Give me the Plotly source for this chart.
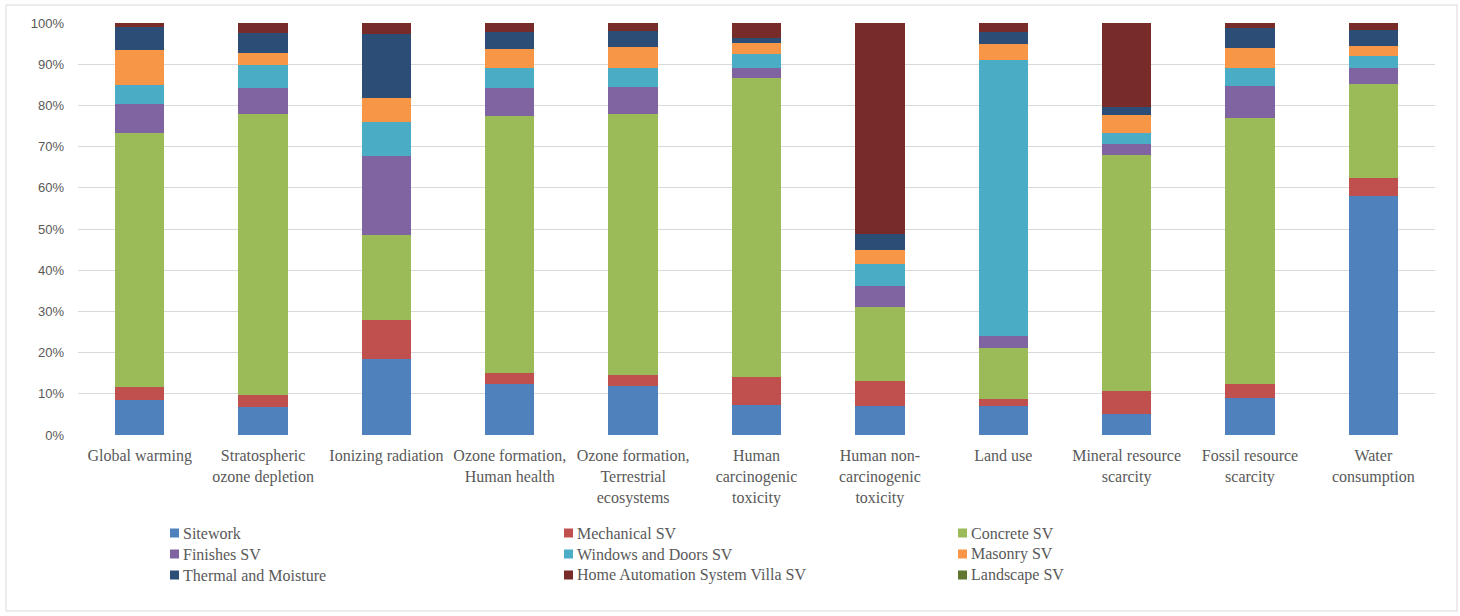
import plotly.graph_objects as go

# Impact categories (x axis) and their wrapped labels
categories = [
    "Global warming",
    "Stratospheric<br>ozone depletion",
    "Ionizing radiation",
    "Ozone formation,<br>Human health",
    "Ozone formation,<br>Terrestrial<br>ecosystems",
    "Human<br>carcinogenic<br>toxicity",
    "Human non-<br>carcinogenic<br>toxicity",
    "Land use",
    "Mineral resource<br>scarcity",
    "Fossil resource<br>scarcity",
    "Water<br>consumption",
]

# Share of each building component per impact category (%)
sitework        = [8.5, 6.7, 18.5, 12.4, 12.0, 7.3, 7.1, 7.1, 5.1, 8.9, 57.9]
mechanical      = [3.2, 3.0, 9.3, 2.6, 2.6, 6.9, 6.1, 1.6, 5.5, 3.5, 4.4]
concrete        = [61.5, 68.1, 20.8, 62.4, 63.2, 72.4, 17.8, 12.3, 57.3, 64.5, 22.9]
finishes        = [7.1, 6.5, 19.0, 6.8, 6.7, 2.6, 5.2, 3.0, 2.7, 7.7, 3.9]
windows_doors   = [4.6, 5.6, 8.4, 4.9, 4.7, 3.3, 5.3, 66.9, 2.8, 4.6, 3.0]
masonry         = [8.5, 2.8, 5.8, 4.7, 4.9, 2.6, 3.3, 4.0, 4.2, 4.7, 2.2]
thermal         = [5.5, 4.9, 15.5, 4.1, 4.0, 1.3, 4.0, 2.9, 1.9, 5.0, 3.9]
home_automation = [1.0, 2.4, 2.7, 2.1, 1.9, 3.6, 51.2, 2.2, 20.5, 1.1, 1.8]
landscape       = [0.0, 0.0, 0.0, 0.0, 0.0, 0.0, 0.0, 0.0, 0.0, 0.0, 0.0]

series_names = [
    "Sitework", "Mechanical SV", "Concrete SV",
    "Finishes SV", "Windows and Doors SV", "Masonry SV",
    "Thermal and Moisture", "Home Automation System Villa SV", "Landscape SV",
]
series_values = [
    sitework, mechanical, concrete,
    finishes, windows_doors, masonry,
    thermal, home_automation, landscape,
]
series_colors = [
    "#4F81BD", "#C0504D", "#9BBB59",
    "#8064A2", "#4BACC6", "#F79646",
    "#2C4D75", "#772C2A", "#5F7530",
]

y_ticks = [0, 10, 20, 30, 40, 50, 60, 70, 80, 90, 100]
y_tick_labels = [f"{v}%" for v in y_ticks]

# Figure geometry (pixels)
W, H = 1460, 616
ML, MR, MT, MB = 78, 25, 23, 181
PW, PH = W - ML - MR, H - MT - MB


def px_x(px):
    return (px - ML) / PW


def px_y(py):
    return (H - MB - py) / PH


serif = "Liberation Serif, Times New Roman, serif"
grey_text = "#595959"

fig = go.Figure()
for name, values, color in zip(series_names, series_values, series_colors):
    fig.add_trace(go.Bar(
        name=name,
        x=categories,
        y=values,
        marker=dict(color=color, line=dict(width=0)),
        width=0.4,
        showlegend=False,
    ))

# Legend: three columns of small swatches with labels
shapes = [dict(
    type="rect", xref="paper", yref="paper",
    x0=px_x(6), x1=px_x(1457), y0=px_y(611), y1=px_y(5),
    line=dict(color="#D9D9D9", width=1),
    fillcolor="rgba(0,0,0,0)",
    layer="below",
)]
annotations = []
col_x, row_y = 170, 533
col_step, row_step = 394, 21
for i, (name, color) in enumerate(zip(series_names, series_colors)):
    cx = col_x + (i % 3) * col_step
    cy = row_y + (i // 3) * row_step
    shapes.append(dict(
        type="rect", xref="paper", yref="paper",
        x0=px_x(cx), x1=px_x(cx + 9), y0=px_y(cy + 4.5), y1=px_y(cy - 4.5),
        fillcolor=color, line=dict(width=0),
    ))
    annotations.append(dict(
        xref="paper", yref="paper", x=px_x(cx + 11), y=px_y(cy),
        xanchor="left", yanchor="middle", showarrow=False,
        text=name, font=dict(family=serif, size=16, color=grey_text),
    ))

fig.update_layout(
    barmode="stack",
    barnorm="percent",
    width=W,
    height=H,
    margin=dict(l=ML, r=MR, t=MT, b=MB),
    paper_bgcolor="white",
    plot_bgcolor="white",
    showlegend=False,
    xaxis=dict(
        type="category",
        showgrid=False,
        showline=False,
        ticks="",
        tickangle=0,
        ticklabelstandoff=9,
        tickfont=dict(family=serif, size=16, color=grey_text),
        range=[-0.5, 10.5],
    ),
    yaxis=dict(
        range=[0, 100],
        tickmode="array",
        tickvals=y_ticks,
        ticktext=y_tick_labels,
        showgrid=True,
        gridcolor="#D9D9D9",
        gridwidth=1,
        zeroline=False,
        showline=False,
        ticks="",
        ticklabelstandoff=13,
        tickfont=dict(family="Liberation Sans, Arial, sans-serif", size=13, color=grey_text),
    ),
    shapes=shapes,
    annotations=annotations,
)

fig.write_html("out.html")
